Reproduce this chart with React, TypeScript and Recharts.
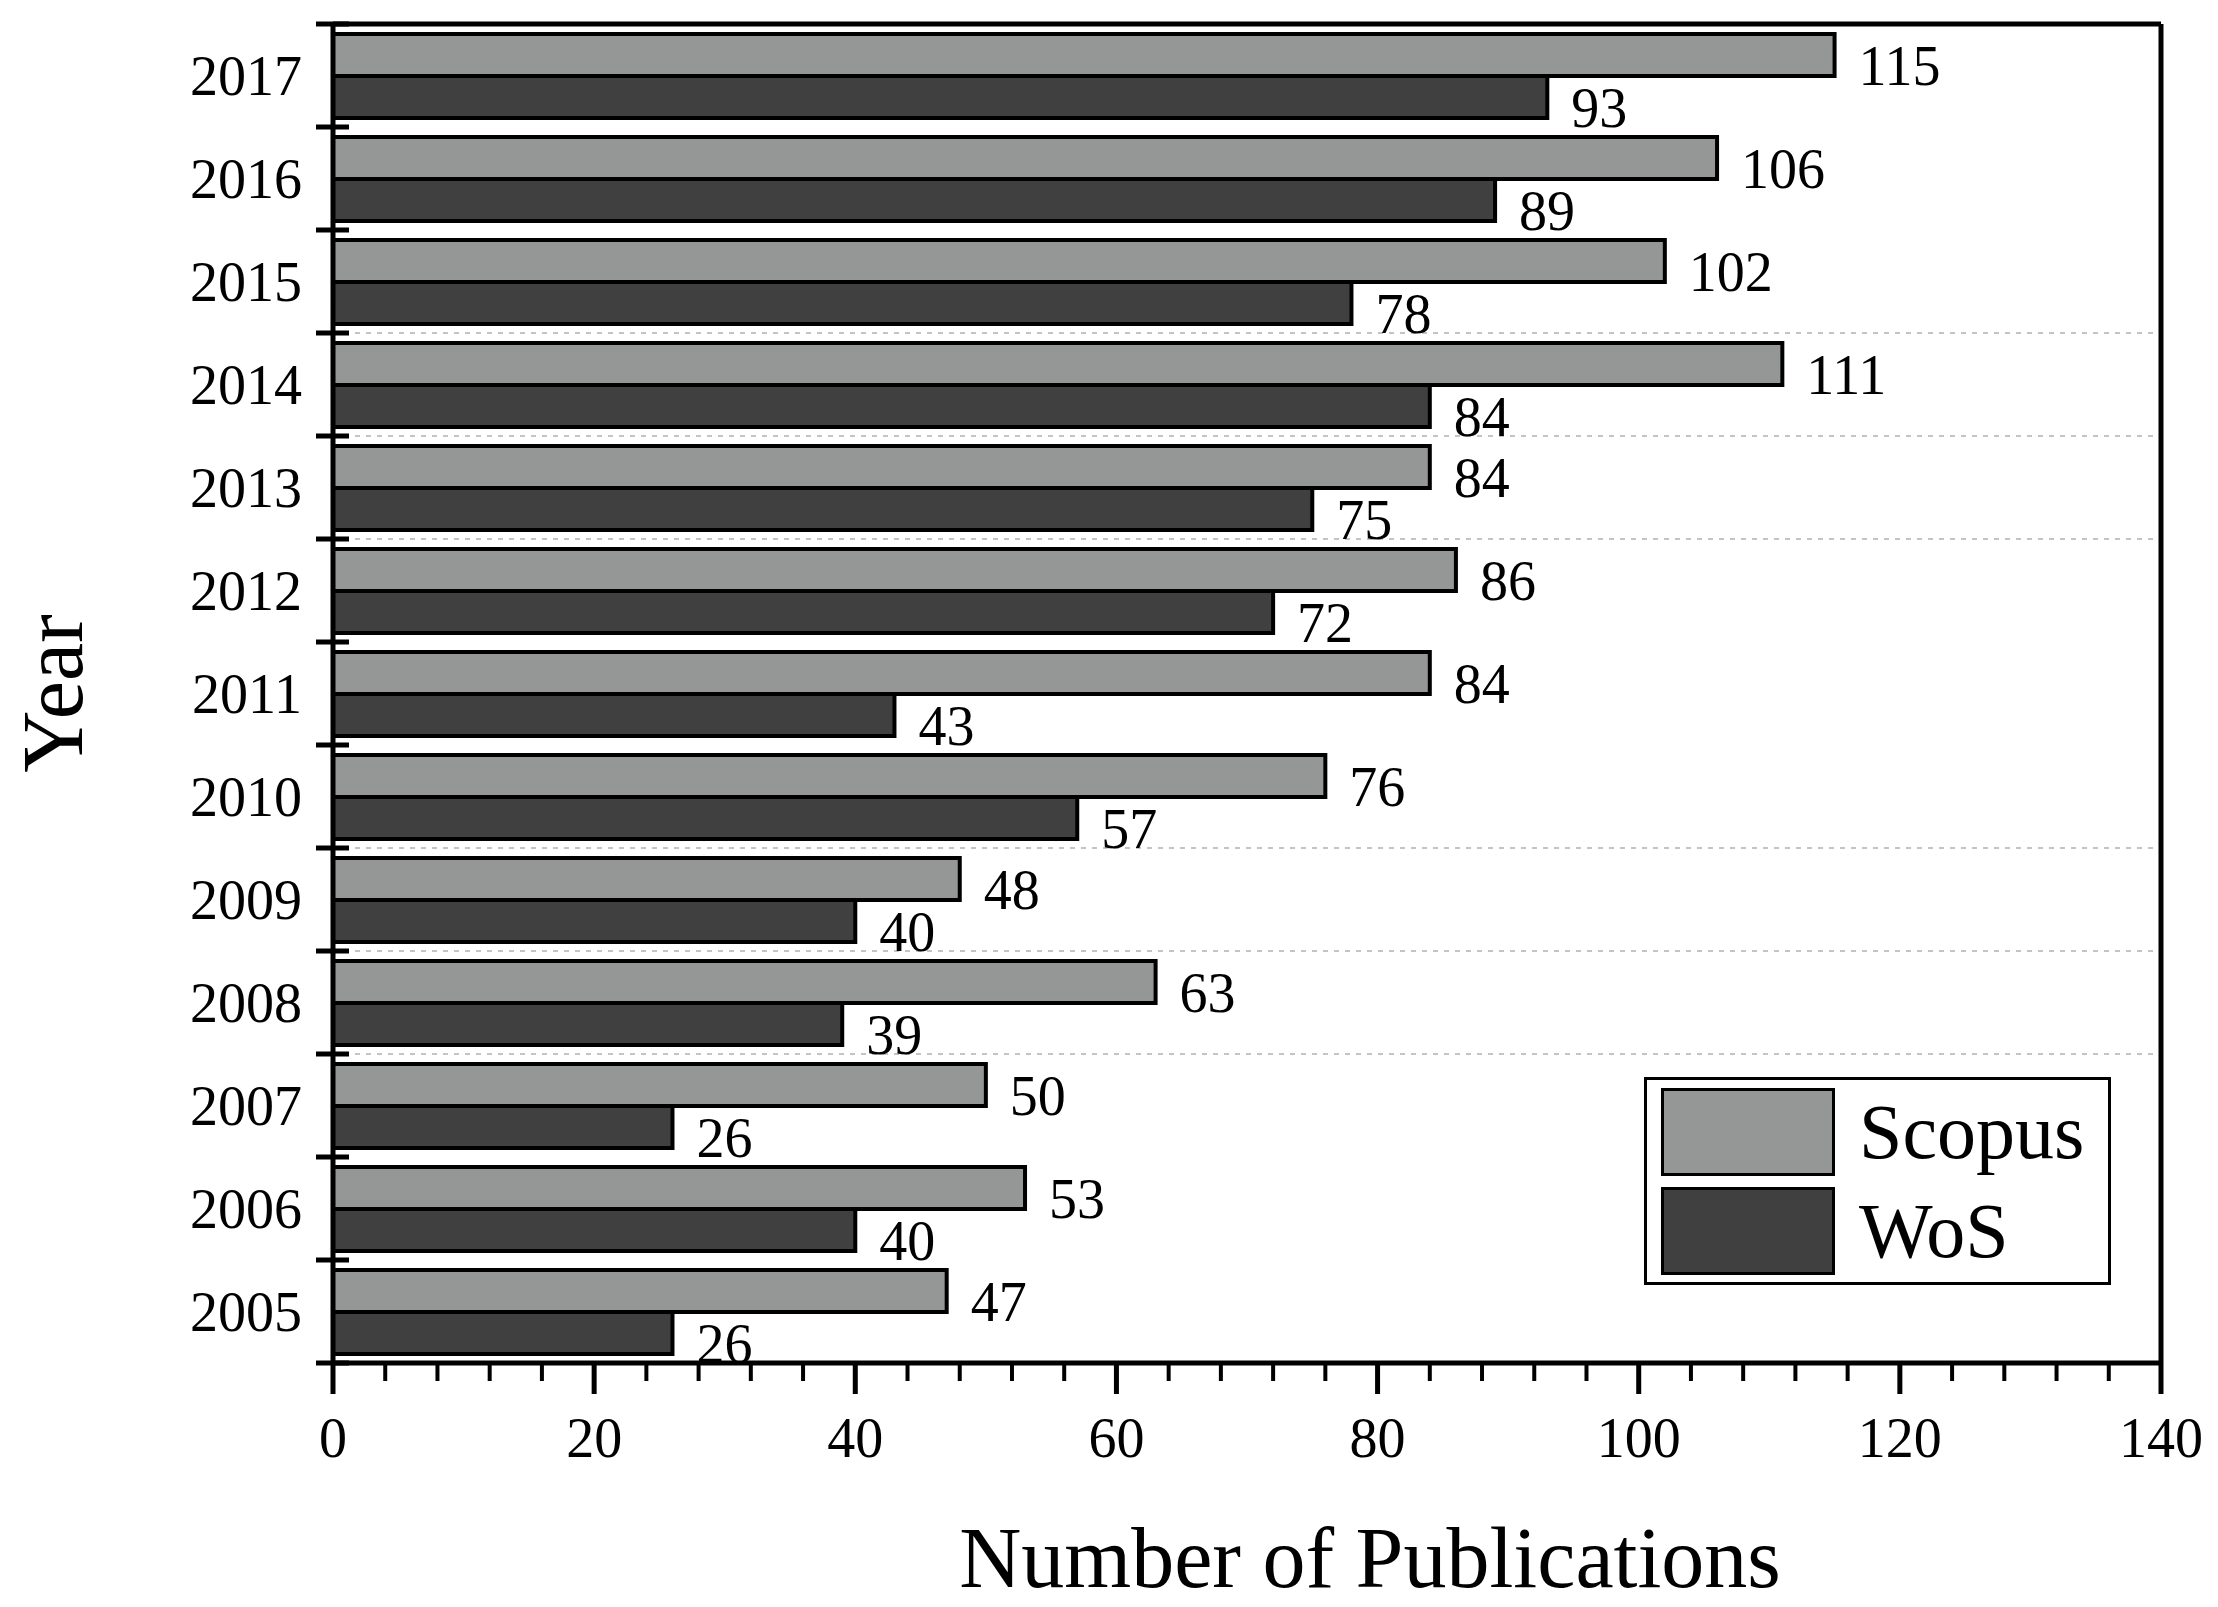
import React from 'react';
import { BarChart, Bar, XAxis, YAxis, CartesianGrid, Legend, LabelList } from 'recharts';

const years = ['2017', '2016', '2015', '2014', '2013', '2012', '2011', '2010', '2009', '2008', '2007', '2006', '2005'];
const scopus = [115, 106, 102, 111, 84, 86, 84, 76, 48, 63, 50, 53, 47];
const wos = [93, 89, 78, 84, 75, 72, 43, 57, 40, 39, 26, 40, 26];

const majorTicks = [0, 20, 40, 60, 80, 100, 120, 140];
const allXTicks = [0, 4, 8, 12, 16, 20, 24, 28, 32, 36, 40, 44, 48, 52, 56, 60, 64, 68, 72, 76, 80, 84, 88, 92, 96, 100, 104, 108, 112, 116, 120, 124, 128, 132, 136, 140];
// category boundaries (counted from the top) for the y-axis tick marks
const bandEdges = [0, 1, 2, 3, 4, 5, 6, 7, 8, 9, 10, 11, 12, 13];
// boundaries where the faint dashed grid shows up
const gridEdges = [3, 4, 5, 8, 9, 10];

const data = years.map((year, i) => ({ year, scopus: scopus[i], wos: wos[i] }));

const FONT = '"Liberation Serif", "Times New Roman", serif';
const SCOPUS_COLOR = '#959797';
const WOS_COLOR = '#404040';

const tickText = { fontSize: 56, fill: '#000', fontFamily: FONT };
const blackLine = { stroke: '#000', strokeWidth: 5 };

// bottom axis: long ticks with labels every 20, short ticks every 4
const XTick = ({ x, y, payload }: any) => {
  const major = majorTicks.includes(payload.value);
  return (
    <g>
      <line x1={x} x2={x} y1={y} y2={y + (major ? 31 : 18)} stroke="#000" strokeWidth={major ? 5 : 4} />
      {major && (
        <text x={x} y={y + 94} textAnchor="middle" fontSize={56} fill="#000" fontFamily={FONT}>
          {payload.value}
        </text>
      )}
    </g>
  );
};

// left axis: short marks crossing the axis at each band boundary
const EdgeTick = ({ x, y }: any) => (
  <line x1={x - 17} x2={x + 16} y1={y} y2={y} stroke="#000" strokeWidth={5} />
);

const renderLegend = ({ payload }: any) => (
  <div
    style={{
      width: 467,
      height: 208,
      boxSizing: 'border-box',
      border: '3px solid #000',
      background: '#fff',
      padding: '8px 14px',
      fontFamily: FONT,
    }}
  >
    {(payload || []).map((entry: any, i: number) => (
      <div key={`leg-${i}`} style={{ display: 'flex', alignItems: 'center', marginBottom: i === 0 ? 11 : 0 }}>
        <span
          style={{
            display: 'inline-block',
            width: 174,
            height: 88,
            boxSizing: 'border-box',
            background: entry.color,
            border: '3px solid #000',
          }}
        />
        <span style={{ marginLeft: 24, fontSize: 78, lineHeight: '88px', color: '#000' }}>{entry.value}</span>
      </div>
    ))}
  </div>
);

// numeric helper axis over the 13 category bands (0 = top edge)
const edgeAxis = {
  type: 'number' as const,
  dataKey: 'scopus',
  domain: [0, 13],
  allowDataOverflow: true,
  reversed: true,
};

const App = () => {
  return (
    <div style={{ width: 2218, height: 1607, fontFamily: FONT }}>
      <style>{'body{margin:0}'}</style>
      <BarChart
        width={2218}
        height={1607}
        data={data}
        layout="vertical"
        margin={{ top: 23, right: 56, bottom: 0, left: 1 }}
        barCategoryGap="9.7%"
        barGap={0}
      >
        <CartesianGrid
          horizontal
          vertical={false}
          yAxisId="grid"
          xAxisId="x"
          stroke="#c4c4c4"
          strokeWidth={2}
          strokeDasharray="5 6"
        />

        <YAxis
          yAxisId="cat"
          type="category"
          dataKey="year"
          width={332}
          axisLine={false}
          tickLine={false}
          tickSize={0}
          tickMargin={31}
          tick={tickText}
          interval={0}
          label={{ value: 'Year', angle: -90, position: 'center', dx: -116, fontSize: 86, fill: '#000', fontFamily: FONT }}
        />
        {/* band-boundary marks on a mirror axis, so it takes no room */}
        <YAxis
          yAxisId="edge"
          {...edgeAxis}
          ticks={bandEdges}
          width={1}
          mirror
          tickSize={0}
          tickMargin={0}
          tickLine={false}
          tick={<EdgeTick />}
          interval={0}
          axisLine={blackLine}
        />
        <YAxis yAxisId="grid" {...edgeAxis} ticks={gridEdges} hide />
        <YAxis
          yAxisId="right"
          orientation="right"
          {...edgeAxis}
          width={1}
          tick={false}
          tickLine={false}
          axisLine={blackLine}
        />

        <XAxis
          xAxisId="x"
          type="number"
          domain={[0, 140]}
          ticks={allXTicks}
          height={244}
          tickSize={0}
          tickMargin={0}
          tickLine={false}
          tick={<XTick />}
          axisLine={blackLine}
          interval={0}
          label={{
            value: 'Number of Publications',
            position: 'insideBottom',
            offset: 20,
            dx: 123,
            fontSize: 86,
            fill: '#000',
            fontFamily: FONT,
          }}
        />
        <XAxis
          xAxisId="top"
          orientation="top"
          type="number"
          domain={[0, 140]}
          height={1}
          tick={false}
          tickLine={false}
          axisLine={blackLine}
        />

        <Legend
          content={renderLegend}
          layout="vertical"
          align="center"
          verticalAlign="middle"
          wrapperStyle={{ position: 'absolute', left: 1644, top: 1077, width: 467, height: 208 }}
        />

        <Bar
          dataKey="scopus"
          name="Scopus"
          xAxisId="x"
          yAxisId="cat"
          fill={SCOPUS_COLOR}
          stroke="#000"
          strokeWidth={4}
          isAnimationActive={false}
        >
          <LabelList dataKey="scopus" position="right" offset={24} dy={10} style={tickText} />
        </Bar>
        <Bar
          dataKey="wos"
          name="WoS"
          xAxisId="x"
          yAxisId="cat"
          fill={WOS_COLOR}
          stroke="#000"
          strokeWidth={4}
          isAnimationActive={false}
        >
          <LabelList dataKey="wos" position="right" offset={24} dy={10} style={tickText} />
        </Bar>
      </BarChart>
    </div>
  );
};

export default App;
